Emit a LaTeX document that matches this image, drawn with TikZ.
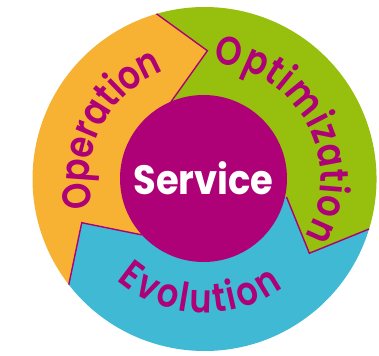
\documentclass[tikz,border=0pt]{standalone}
\usepackage{fontspec}
\setmainfont{Poppins}[UprightFont={* Medium},BoldFont={* SemiBold}]
\newfontfamily\heavyfont{Poppins}[UprightFont={* Bold}]
\usetikzlibrary{decorations.text}
\definecolor{mag}{HTML}{AE0077}
\definecolor{orng}{HTML}{F7B234}
\definecolor{grn}{HTML}{97BF0D}
\definecolor{blu}{HTML}{40B9D4}
\tikzset{
  edge/.style={draw=mag,line width=1.4pt,line join=miter},
  arctext/.style 2 args={decorate,decoration={text along path,text align=center,raise=#2,
    text={|\bfseries\fontsize{40}{48}\selectfont\addfontfeature{FakeStretch=0.84}\color{mag}|#1}}}
}
\begin{document}
\begin{tikzpicture}[x=1pt,y=1pt]
\useasboundingbox(-204.5,-176)rectangle(174.5,179);
\fill[orng](0,0)--(113.6:84)--(88.7:128.3)--(106.2:172)arc[start angle=106.2,end angle=217.9,radius=172]--(199.6:130.3)--(221.7:84)--cycle;
\fill[grn](0,0)--(-12.4:84)--(-35.3:128.5)--(-16.9:172)arc[start angle=-16.9,end angle=106.2,radius=172]--(88.7:128.3)--(113.6:84)--cycle;
\fill[blu](0,0)--(221.7:84)--(199.6:130.3)--(217.9:172)arc[start angle=217.9,end angle=343.1,radius=172]--(324.7:128.5)--(347.6:84)--cycle;
\draw[edge](113.6:84)--(88.7:128.3)--(106.2:172);
\draw[edge](-12.4:84)--(-35.3:128.5)--(-16.9:172);
\draw[edge](221.7:84)--(199.6:130.3)--(217.9:172);
\node[circle,fill=mag,minimum size=167pt,inner sep=0pt,text=white,font=\heavyfont\fontsize{41}{48}\selectfont\addfontfeature{FakeStretch=0.9}](service)at(-1,0.5){Service};
\path[arctext={Operation}{-3pt}](212.5:118)arc[start angle=212.5,end angle=92.5,radius=118];
\path[arctext={Optimization}{6.6pt}](103:109.4)arc[start angle=103,end angle=-47,radius=109.4];
\path[arctext={Evolution}{-19.4pt}](207.75:114.6)arc[start angle=207.75,end angle=327.75,radius=114.6];
\end{tikzpicture}
\end{document}
